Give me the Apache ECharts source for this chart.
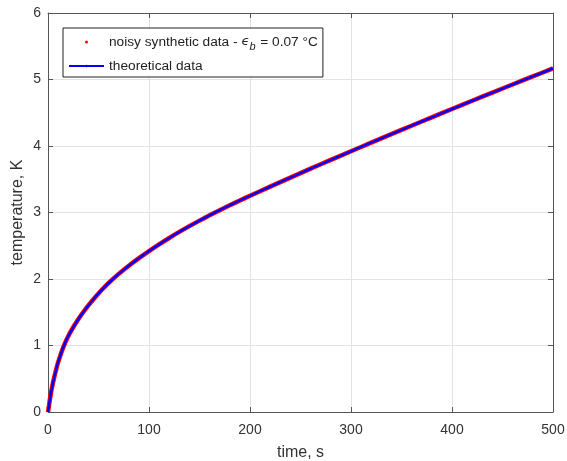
<!DOCTYPE html>
<html>
<head>
<meta charset="utf-8">
<script src="https://cdn.jsdelivr.net/npm/echarts@6/dist/echarts.min.js"></script>
<style>html,body{margin:0;padding:0;background:#fff}#c{width:567px;height:461px}</style>
</head>
<body>
<div id="c"></div>
<script>
// time, s
const timeS = [0,1,2,3,4,6,8,10,13,16,20,25,30,35,40,45,50,55,60,70,80,90,100,110,120,130,140,150,160,170,180,190,200,220,240,260,280,300,320,340,360,380,400,420,440,460,480,500];
// temperature, K (theoretical curve)
const theoTemp = [0,0.10,0.20,0.29,0.37,0.51,0.635,0.745,0.885,1.007,1.14,1.274,1.394,1.503,1.603,1.696,1.783,1.864,1.94,2.077,2.2,2.313,2.42,2.521,2.617,2.708,2.795,2.878,2.958,3.035,3.109,3.181,3.251,3.389,3.525,3.659,3.791,3.921,4.05,4.178,4.305,4.431,4.556,4.68,4.803,4.925,5.046,5.166];
// noisy synthetic data (noise too small to resolve in picture; follows curve)
const noisyTemp = theoTemp;
const xTicks = [0,100,200,300,400,500];
const yTicks = [0,1,2,3,4,5,6];

const FONT = '"Liberation Sans", Arial, Helvetica, sans-serif';
const AX = '#555555';
const TXT = '#333333';
const GRID = '#e3e3e3';

const chart = echarts.init(document.getElementById('c'), null, {renderer:'canvas'});
const pts = (ys) => timeS.map((t,i)=>[t, ys[i]]);

const nameNoisy = 'noisy';
const nameTheo = 'theo';

chart.setOption({
  animation:false,
  backgroundColor:'#fff',
  grid:{left:48, right:14, top:13, bottom:49, show:false, containLabel:false, outerBoundsMode:'none'},
  legend:{
    orient:'vertical', left:63, top:28,
    padding:[7,5,4,5], itemGap:7,
    itemWidth:35, itemHeight:3,
    backgroundColor:'#fff', borderColor:'#222', borderWidth:1,
    data:[
      {name:nameNoisy, icon:'circle', itemStyle:{color:'#ff0000'}},
      {name:nameTheo}
    ],
    formatter:(n)=> n===nameNoisy ? '{a|noisy synthetic data - }{e|ϵ}{s|b}{a| = 0.07 °C}' : '{a|theoretical data}',
    textStyle:{
      fontFamily:FONT, fontSize:13.7, color:'#222',
      rich:{
        a:{fontFamily:FONT, fontSize:13.7, color:'#222'},
        e:{fontFamily:'DejaVu Sans', fontStyle:'italic', fontSize:13, color:'#222'},
        s:{fontFamily:FONT, fontStyle:'italic', fontSize:11, color:'#222', verticalAlign:'bottom', padding:[9,1,0,0]}
      }
    }
  },
  xAxis:[{
    type:'value', min:0, max:500, interval:100, position:'bottom',
    name:'time, s', nameLocation:'middle', nameGap:33, nameMoveOverlap:false,
    nameTextStyle:{fontFamily:FONT, fontSize:16, color:TXT},
    axisLine:{show:true, onZero:false, lineStyle:{color:AX, width:1}},
    axisTick:{show:true, inside:true, length:5, lineStyle:{color:AX}},
    axisLabel:{fontFamily:FONT, fontSize:14, color:TXT, margin:11,
      formatter:(v)=> xTicks.includes(v) ? String(v) : ''},
    splitLine:{show:true, lineStyle:{color:GRID, width:1}}
  },{
    type:'value', min:0, max:500, interval:100, position:'top',
    axisLine:{show:true, onZero:false, lineStyle:{color:AX, width:1}},
    axisTick:{show:true, inside:true, length:5, lineStyle:{color:AX}},
    axisLabel:{show:false}, splitLine:{show:false}
  }],
  yAxis:[{
    type:'value', min:0, max:6, interval:1, position:'left',
    name:'temperature, K', nameLocation:'middle', nameGap:22, nameRotate:90, nameMoveOverlap:false,
    nameTextStyle:{fontFamily:FONT, fontSize:16, color:TXT},
    axisLine:{show:true, onZero:false, lineStyle:{color:AX, width:1}},
    axisTick:{show:true, inside:true, length:5, lineStyle:{color:AX}},
    axisLabel:{fontFamily:FONT, fontSize:14, color:TXT, margin:7,
      formatter:(v)=> yTicks.includes(v) ? String(v) : ''},
    splitLine:{show:true, lineStyle:{color:GRID, width:1}}
  },{
    type:'value', min:0, max:6, interval:1, position:'right',
    axisLine:{show:true, onZero:false, lineStyle:{color:AX, width:1}},
    axisTick:{show:true, inside:true, length:5, lineStyle:{color:AX}},
    axisLabel:{show:false}, splitLine:{show:false}
  }],
  series:[
    {name:nameNoisy, type:'line', data:pts(noisyTemp), smooth:0.3, symbol:'none',
     lineStyle:{color:'#ff0000', width:4.5}, itemStyle:{color:'#ff0000'}, z:2},
    {name:nameTheo, type:'line', data:pts(theoTemp), smooth:0.3, symbol:'none',
     lineStyle:{color:'#0000ff', width:2.5}, itemStyle:{color:'#0000ff'}, z:3}
  ]
});
</script>
</body>
</html>
